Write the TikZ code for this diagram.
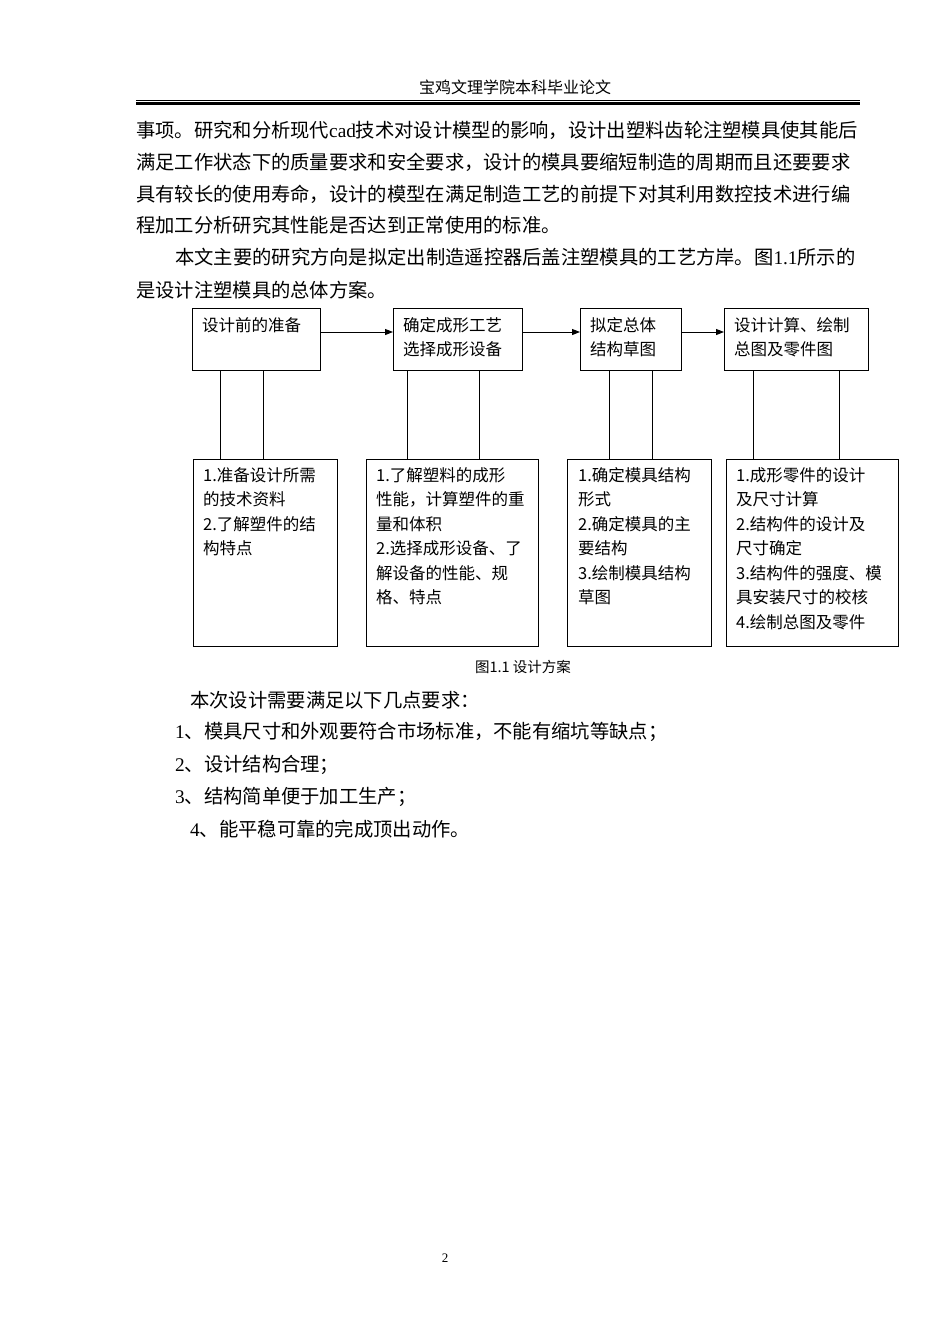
\documentclass[tikz,border=0pt]{standalone}
\usepackage{fontspec}
\setmainfont{Noto Sans CJK SC}
\newfontfamily\lat{Liberation Serif}
\usetikzlibrary{arrows.meta}
\begin{document}
\begin{tikzpicture}[x=1pt,y=-1pt,
  box/.style={draw,line width=1pt},
  bt/.style={anchor=north west,inner sep=0pt,align=left,font=\fontsize{16.5}{24.5}\selectfont},
  body/.style={anchor=west,inner sep=0pt,font=\fontsize{19.3}{20}\selectfont},
  arr/.style={-{Triangle[length=8pt,width=6pt]},line width=1pt},
  ln/.style={line width=1pt}]
\useasboundingbox[fill=white] (0,0) rectangle (950,1344);
% header
\node[inner sep=0pt,font=\fontsize{16}{16}\selectfont] (hdr) at (515,87) {宝鸡文理学院本科毕业论文};
\draw[line width=0.8pt] (136,100) -- (860,100);
\draw[line width=2.5pt] (136,103.5) -- (860,103.5);
% body
\node[body] (l1) at (136,130) {事项。研究和分析现代{\lat cad}技术对设计模型的影响，设计出塑料齿轮注塑模具使其能后};
\node[body] (l2) at (136,162) {满足工作状态下的质量要求和安全要求，设计的模具要缩短制造的周期而且还要要求};
\node[body] (l3) at (136,194) {具有较长的使用寿命，设计的模型在满足制造工艺的前提下对其利用数控技术进行编};
\node[body] (l4) at (136,225) {程加工分析研究其性能是否达到正常使用的标准。};
\node[body] (l5) at (175,257) {本文主要的研究方向是拟定出制造遥控器后盖注塑模具的工艺方岸。图{\lat 1.1}所示的};
\node[body] (l6) at (136,290) {是设计注塑模具的总体方案。};
% top boxes
\draw[box] (192,308) rectangle (320,370) coordinate (t1);
\draw[box] (393,308) rectangle (522,370);
\draw[box] (580,308) rectangle (681,370);
\draw[box] (724,308) rectangle (868,370);
\node[bt] (a1) at (202,317) {设计前的准备};
\node[bt] (a2) at (403,317) {确定成形工艺\\选择成形设备};
\node[bt] (a3) at (590,317) {拟定总体\\结构草图};
\node[bt] (a4) at (734,317) {设计计算、绘制\\总图及零件图};
\coordinate (p1) at (320,332); \coordinate (q1) at (393,332);
\coordinate (p2) at (522,332); \coordinate (q2) at (580,332);
\coordinate (p3) at (681,332); \coordinate (q3) at (724,332);
\draw[arr] (p1) -- (q1);
\draw[arr] (p2) -- (q2);
\draw[arr] (p3) -- (q3);
% bottom boxes
\draw[box] (193,459) rectangle (337,646);
\draw[box] (366,459) rectangle (538,646);
\draw[box] (567,459) rectangle (711,646);
\draw[box] (726,459) rectangle (898,646);
\foreach \x in {220,263,407,479,609,652,753,839} \draw[ln] (\x,370) -- (\x,459);
\node[bt] (b1) at (203,467) {1.准备设计所需\\的技术资料\\2.了解塑件的结\\构特点};
\node[bt] (b2) at (376,467) {1.了解塑料的成形\\性能，计算塑件的重\\量和体积\\2.选择成形设备、了\\解设备的性能、规\\格、特点};
\node[bt] (b3) at (578,467) {1.确定模具结构\\形式\\2.确定模具的主\\要结构\\3.绘制模具结构\\草图};
\node[bt] (b4) at (736,467) {1.成形零件的设计\\及尺寸计算\\2.结构件的设计及\\尺寸确定\\3.结构件的强度、模\\具安装尺寸的校核\\4.绘制总图及零件};
\node[inner sep=0pt,font=\fontsize{14.5}{15}\selectfont] (cap) at (523,667) {图1.1 设计方案};
% list
\node[body] (m0) at (190,700) {本次设计需要满足以下几点要求：};
\node[body] (m1) at (175,732) {{\lat 1}、模具尺寸和外观要符合市场标准，不能有缩坑等缺点；};
\node[body] (m2) at (175,765) {{\lat 2}、设计结构合理；};
\node[body] (m3) at (175,797) {{\lat 3}、结构简单便于加工生产；};
\node[body] (m4) at (190,829) {{\lat 4}、能平稳可靠的完成顶出动作。};
\node[inner sep=0pt,font=\lat\fontsize{13}{13}\selectfont] (pg) at (445,1258) {2};
\end{tikzpicture}
\end{document}
